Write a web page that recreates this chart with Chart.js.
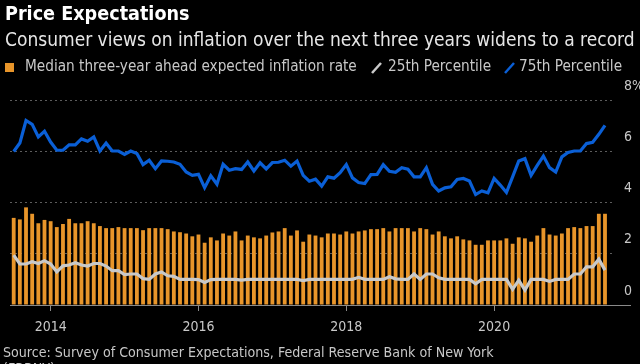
<!DOCTYPE html>
<html>
<head>
<meta charset="utf-8">
<script src="https://cdn.jsdelivr.net/npm/chart.js@4.4.0/dist/chart.umd.min.js"></script>
<style>
  html, body { margin: 0; padding: 0; background: #000; }
  #wrap {
    position: relative; width: 640px; height: 364px; overflow: hidden; background: #000;
    font-family: "DejaVu Sans Condensed", "DejaVu Sans", sans-serif; color: #c8c8c8;
  }
  #chart { position: absolute; left: 0; top: 0; }
  .t { position: absolute; white-space: nowrap; line-height: 1; }
  #title { left: 5px; top: 4px; font-size: 19.6px; font-weight: bold; color: #fff; }
  #subtitle { left: 5px; top: 30px; font-size: 19px; color: #e6e6e6; }
  .leg { top: 59px; font-size: 15.2px; }
  .sq { position: absolute; left: 5px; top: 63px; width: 9px; height: 9px; background: #e8952a; }
  .slash { position: absolute; top: 61px; }
  #source { left: 3px; top: 345px; font-size: 14.1px; }
  #source2 { left: 3px; top: 361px; font-size: 14.1px; }
</style>
</head>
<body>
<div id="wrap">
  <canvas id="chart" width="640" height="364"></canvas>
  <div id="title" class="t">Price Expectations</div>
  <div id="subtitle" class="t">Consumer views on inflation over the next three years widens to a record</div>
  <span class="sq"></span>
  <div class="t leg" style="left:25px">Median three-year ahead expected inflation rate</div>
  <svg class="slash" style="left:370px" width="13" height="13"><line x1="2" y1="12" x2="11" y2="2" stroke="#c9c9c9" stroke-width="2.5"/></svg>
  <div class="t leg" style="left:388px">25th Percentile</div>
  <svg class="slash" style="left:503px" width="13" height="13"><line x1="2" y1="12" x2="11" y2="2" stroke="#0a5fd6" stroke-width="2.5"/></svg>
  <div class="t leg" style="left:519px">75th Percentile</div>
  <div id="source" class="t">Source: Survey of Consumer Expectations, Federal Reserve Bank of New York</div>
  <div id="source2" class="t">(FRBNY)</div>
</div>
<script>
// monthly survey, June 2013 .. June 2021
const startYear = 2013;
const startMonth = 6;

const median = [
  3.40, 3.34, 3.81, 3.56, 3.19, 3.32, 3.27, 3.04, 3.16, 3.36,
  3.19, 3.19, 3.27, 3.19, 3.08, 3.00, 3.00, 3.04, 3.00, 3.00,
  3.00, 2.92, 3.00, 3.00, 3.00, 2.96, 2.87, 2.84, 2.79, 2.68,
  2.75, 2.43, 2.64, 2.52, 2.79, 2.71, 2.87, 2.52, 2.71, 2.64,
  2.60, 2.71, 2.83, 2.87, 3.00, 2.71, 2.91, 2.47, 2.75, 2.71,
  2.64, 2.79, 2.79, 2.75, 2.87, 2.79, 2.87, 2.91, 2.96, 2.96,
  3.00, 2.87, 3.00, 3.00, 3.00, 2.87, 3.00, 2.96, 2.75, 2.87,
  2.68, 2.60, 2.68, 2.56, 2.52, 2.35, 2.35, 2.52, 2.52, 2.52,
  2.60, 2.39, 2.64, 2.60, 2.47, 2.71, 3.00, 2.75, 2.71, 2.79,
  3.00, 3.04, 3.00, 3.08, 3.08, 3.56, 3.56
];

const p25 = [
  1.95, 1.60, 1.60, 1.69, 1.62, 1.73, 1.60, 1.29, 1.53, 1.56,
  1.65, 1.56, 1.52, 1.62, 1.62, 1.52, 1.34, 1.34, 1.19, 1.21,
  1.21, 1.03, 1.00, 1.21, 1.29, 1.14, 1.12, 1.00, 1.00, 1.00,
  0.99, 0.88, 0.99, 1.00, 1.00, 1.00, 1.00, 0.97, 1.00, 1.00,
  1.00, 1.00, 1.00, 1.00, 1.00, 1.00, 1.00, 0.95, 1.00, 1.00,
  1.00, 1.00, 1.00, 1.00, 1.00, 1.00, 1.08, 1.00, 1.00, 1.00,
  1.00, 1.10, 1.02, 1.00, 1.00, 1.21, 1.00, 1.21, 1.21, 1.06,
  1.00, 1.00, 1.00, 1.00, 1.00, 0.83, 1.00, 1.00, 1.00, 1.00,
  1.00, 0.61, 0.97, 0.58, 1.00, 1.00, 1.00, 0.92, 1.00, 1.00,
  1.00, 1.21, 1.21, 1.49, 1.49, 1.79, 1.36
];

const p75 = [
  5.99, 6.32, 7.20, 7.05, 6.56, 6.78, 6.36, 6.04, 6.04, 6.25,
  6.25, 6.48, 6.39, 6.56, 6.01, 6.32, 6.01, 6.01, 5.88, 6.01,
  5.91, 5.48, 5.65, 5.32, 5.62, 5.61, 5.58, 5.49, 5.19, 5.06,
  5.10, 4.58, 5.04, 4.71, 5.49, 5.26, 5.32, 5.29, 5.58, 5.23,
  5.55, 5.31, 5.56, 5.57, 5.65, 5.42, 5.62, 5.06, 4.83, 4.91,
  4.64, 5.00, 4.95, 5.16, 5.48, 4.96, 4.78, 4.74, 5.09, 5.10,
  5.48, 5.22, 5.18, 5.36, 5.30, 5.00, 5.00, 5.36, 4.71, 4.45,
  4.57, 4.61, 4.90, 4.94, 4.84, 4.31, 4.45, 4.38, 4.94, 4.68,
  4.39, 5.00, 5.62, 5.71, 5.06, 5.45, 5.81, 5.36, 5.19, 5.78,
  5.95, 6.01, 6.01, 6.30, 6.35, 6.66, 7.01
];

const tickYears = [2014, 2016, 2018, 2020];
const yTicks = [0, 2, 4, 6, 8];

const ORANGE = "#e8952a";
const BLUE = "#0a5fd6";
const GRAY = "#c9c9c9";
const TEXT = "#c8c8c8";
const FONT = '"DejaVu Sans Condensed", "DejaVu Sans", sans-serif';

// year label sits on the month-end of the December before it
function yearPos(year) {
  return (year - 1 - startYear) * 12 + (12 - startMonth);
}

function points(values) {
  return values.map((v, i) => ({ x: i, y: v }));
}

const zeroLine = {
  id: "zeroLine",
  beforeDatasetsDraw(chart) {
    const { ctx, chartArea, scales } = chart;
    const y = Math.round(scales.y.getPixelForValue(0)) + 0.5;
    ctx.save();
    ctx.strokeStyle = "#8a8a8a";
    ctx.lineWidth = 1;
    ctx.beginPath();
    ctx.moveTo(chartArea.left, y);
    ctx.lineTo(chart.width - 9, y);
    ctx.stroke();
    ctx.restore();
  },
};

Chart.defaults.font.family = FONT;
Chart.defaults.color = TEXT;

new Chart(document.getElementById("chart"), {
  type: "bar",
  data: {
    datasets: [
      {
        type: "line",
        label: "75th Percentile",
        data: points(p75),
        borderColor: BLUE,
        borderWidth: 3.2,
        pointRadius: 0,
        tension: 0,
        order: 1,
      },
      {
        type: "line",
        label: "25th Percentile",
        data: points(p25),
        borderColor: GRAY,
        borderWidth: 3.2,
        pointRadius: 0,
        tension: 0,
        order: 2,
      },
      {
        type: "bar",
        label: "Median three-year ahead expected inflation rate",
        data: points(median),
        backgroundColor: ORANGE,
        barPercentage: 0.62,
        categoryPercentage: 1,
        order: 3,
      },
    ],
  },
  options: {
    responsive: false,
    animation: false,
    layout: { padding: { left: 10, top: 100, right: 0, bottom: 29 } },
    plugins: { legend: { display: false }, tooltip: { enabled: false } },
    scales: {
      x: {
        type: "linear",
        offset: false,
        min: -0.6,
        max: 97.3,
        grid: { offset: false, drawOnChartArea: false, color: "#8a8a8a", tickLength: 6 },
        border: { display: false },
        afterBuildTicks: (scale) => {
          scale.ticks = tickYears.map((y) => ({ value: yearPos(y) }));
        },
        afterFit: (scale) => { scale.height = 30; },
        ticks: {
          autoSkip: false,
          maxRotation: 0,
          padding: 8,
          color: TEXT,
          font: { size: 14 },
          callback: (value) => {
            const i = tickYears.findIndex((y) => yearPos(y) === value);
            return i >= 0 ? String(tickYears[i]) : "";
          },
        },
      },
      y: {
        position: "right",
        min: 0,
        max: 8,
        afterBuildTicks: (scale) => {
          scale.ticks = yTicks.map((v) => ({ value: v }));
        },
        afterFit: (scale) => { scale.width = 27; },
        grid: {
          drawTicks: false,
          color: (c) => (c.tick && c.tick.value === 0 ? "rgba(0,0,0,0)" : "#5c5c5c"),
        },
        border: { display: false, dash: [2, 3] },
        ticks: {
          padding: 11,
          labelOffset: -14,
          color: TEXT,
          font: { size: 14 },
          callback: (v) => (v === 8 ? "8%" : String(v)),
        },
      },
    },
  },
  plugins: [zeroLine],
});
</script>
</body>
</html>
